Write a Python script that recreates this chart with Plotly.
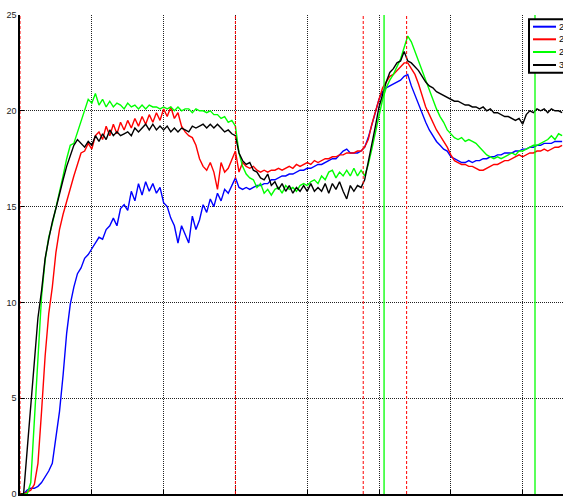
import plotly.graph_objects as go

x = list(range(0, 3800, 25))

black = [0.0, 0.0, 2.3, 4.6, 7.3, 9.2, 10.6, 12.3, 13.3, 14.2,
         14.9, 15.7, 16.4, 17.1, 17.7, 18.2, 18.5, 18.3, 18.1, 18.4,
         18.2, 18.7, 18.4, 18.8, 18.5, 19.0, 18.7, 18.9, 18.7, 18.8,
         18.9, 18.7, 19.1, 18.9, 19.1, 19.3, 19.0, 19.3, 19.0, 19.2,
         19.0, 19.2, 18.9, 19.1, 18.9, 19.1, 19.0, 18.9, 19.2, 19.1,
         19.2, 19.3, 19.1, 19.3, 19.1, 19.3, 19.1, 18.9, 19.0, 18.8,
         18.7, 17.8, 17.4, 17.2, 17.3, 16.9, 16.8, 16.5, 16.4, 16.7,
         16.1, 16.3, 15.9, 16.2, 15.8, 16.1, 15.7, 16.0, 15.8, 16.1,
         15.8, 16.2, 15.8, 16.0, 15.8, 16.2, 15.7, 16.2, 15.9, 16.3,
         15.8, 15.4, 16.1, 15.8, 16.1, 16.0, 16.4, 17.3, 18.2, 19.2,
         20.2, 20.9, 21.5, 22.0, 22.2, 22.5, 22.6, 23.1, 22.6, 22.5,
         22.3, 22.1, 21.8, 21.5, 21.3, 21.2, 21.0, 20.9, 20.8, 20.7,
         20.6, 20.5, 20.5, 20.4, 20.3, 20.3, 20.2, 20.2, 20.1, 20.2,
         20.0, 20.1, 19.9, 19.9, 19.8, 19.7, 19.7, 19.6, 19.5, 19.6,
         19.3, 19.8, 20.0, 19.9, 20.1, 20.0, 20.1, 19.9, 20.1, 20.0,
         20.0, 19.9]

green = [0.0, 0.0, 0.0, 0.6, 3.8, 7.2, 10.3, 12.2, 13.4, 14.1,
         14.9, 15.8, 16.6, 17.5, 18.2, 18.3, 18.9, 19.5, 20.1, 20.6,
         20.4, 20.9, 20.3, 20.6, 20.2, 20.5, 20.2, 20.4, 20.3, 20.1,
         20.4, 20.2, 20.3, 20.1, 20.3, 20.1, 20.3, 20.2, 20.2, 20.1,
         20.2, 20.1, 20.2, 20.0, 20.2, 20.0, 20.1, 20.1, 19.9, 20.1,
         20.0, 20.0, 19.9, 20.0, 19.8, 19.8, 19.6, 19.7, 19.4, 19.5,
         19.2, 17.8, 17.1, 16.7, 16.5, 16.4, 16.0, 16.2, 15.7, 15.9,
         15.6, 15.9, 16.0, 15.7, 16.1, 15.9, 16.0, 15.8, 16.1, 16.2,
         16.1, 16.3, 16.4, 16.2, 16.6, 16.4, 16.8, 16.9, 16.5, 16.8,
         16.6, 16.9, 16.6, 17.0, 16.6, 16.9, 16.6, 17.2, 18.0, 18.9,
         19.8, 20.6, 21.2, 21.6, 21.9, 22.3, 22.7, 23.3, 23.9, 23.6,
         23.1, 22.5, 22.0, 21.5, 21.0, 20.5, 20.1, 19.7, 19.4, 19.0,
         18.8, 18.6, 18.5, 18.6, 18.4, 18.5, 18.4, 18.3, 18.1, 17.9,
         17.7, 17.6, 17.5, 17.6, 17.5, 17.6, 17.7, 17.8, 17.7, 17.9,
         17.9, 18.0, 18.1, 18.2, 18.2, 18.3, 18.4, 18.5, 18.7, 18.5,
         18.8, 18.7]

red = [0.0, 0.0, 0.1, 0.2, 0.5, 1.6, 4.3, 7.2, 9.4, 10.8,
       12.6, 13.8, 14.6, 15.3, 15.9, 16.6, 17.2, 17.8, 17.9, 18.3,
       18.0, 18.7, 18.9, 18.5, 19.2, 18.7, 19.3, 18.8, 19.4, 19.0,
       19.5, 19.1, 19.6, 19.2, 19.7, 19.3, 19.8, 19.4, 19.9, 19.5,
       20.1, 19.7, 20.2, 19.6, 19.9, 19.2, 18.9, 18.7, 18.6, 18.2,
       17.5, 17.1, 16.9, 17.3, 16.8, 15.9, 17.3, 16.8, 17.0, 17.5,
       17.9, 16.8, 17.3, 17.1, 17.0, 17.1, 16.9, 16.8, 16.9, 16.8,
       16.9, 16.9, 17.0, 16.9, 17.0, 17.1, 17.0, 17.2, 17.1, 17.2,
       17.3, 17.2, 17.4, 17.3, 17.4, 17.5, 17.5, 17.6, 17.6, 17.7,
       17.7, 17.8, 17.8, 17.8, 17.9, 17.9, 18.1, 18.5, 19.3, 20.0,
       20.6, 21.2, 21.5, 21.8, 21.9, 22.1, 22.3, 22.5, 22.5, 22.2,
       21.9, 21.4, 20.8, 20.2, 19.8, 19.4, 19.0, 18.7, 18.4, 18.1,
       17.7, 17.4, 17.3, 17.2, 17.2, 17.1, 17.1, 17.0, 16.9, 16.9,
       17.0, 17.1, 17.2, 17.2, 17.3, 17.4, 17.4, 17.5, 17.6, 17.7,
       17.6, 17.7, 17.8, 17.8, 17.9, 17.9, 18.0, 17.9, 18.0, 18.1,
       18.1, 18.2]

blue = [0.0, 0.0, 0.2, 0.3, 0.3, 0.4, 0.6, 0.9, 1.2, 1.6,
        3.0, 4.3, 6.2, 8.4, 9.9, 10.8, 11.5, 11.8, 12.3, 12.5,
        12.8, 13.1, 13.4, 13.3, 13.8, 14.0, 14.4, 14.0, 14.9, 15.1,
        14.8, 15.8, 15.3, 16.2, 15.6, 16.3, 15.8, 16.2, 15.7, 16.0,
        15.2, 15.0, 14.4, 14.0, 13.1, 14.0, 13.5, 13.1, 14.5, 13.8,
        14.3, 15.1, 14.7, 15.4, 15.0, 15.7, 15.3, 15.9, 15.7, 16.1,
        16.5, 16.0, 15.9, 16.0, 15.9, 16.0, 16.1, 16.1, 16.2, 16.2,
        16.4, 16.4, 16.5, 16.6, 16.6, 16.7, 16.7, 16.8, 16.9, 16.9,
        17.0, 17.0, 17.1, 17.2, 17.2, 17.3, 17.4, 17.5, 17.5, 17.7,
        17.9, 18.0, 17.8, 17.8, 17.8, 17.9, 18.1, 18.6, 19.3, 20.0,
        20.6, 21.0, 21.2, 21.3, 21.4, 21.5, 21.6, 21.8, 21.9, 21.3,
        20.8, 20.3, 19.8, 19.4, 19.0, 18.7, 18.4, 18.2, 18.0, 17.9,
        17.6, 17.5, 17.4, 17.3, 17.3, 17.4, 17.3, 17.4, 17.4, 17.5,
        17.5, 17.6, 17.6, 17.7, 17.7, 17.8, 17.8, 17.8, 17.9, 17.9,
        18.0, 18.0, 18.1, 18.1, 18.2, 18.2, 18.3, 18.3, 18.3, 18.4,
        18.4, 18.4]

series_names = ["2", "2", "2", "3"]
series_colors = ["#0000ff", "#ff0000", "#00ff00", "#000000"]
series_values = [blue, red, green, black]

red_markers = [0, 1500, 2390, 2692]
green_markers = [2535, 3586]

x_ticks = [0, 500, 1000, 1500, 2000, 2500, 3000, 3500]
y_ticks = [0, 5, 10, 15, 20, 25]

fig = go.Figure()
for name, col, vals in zip(series_names, series_colors, series_values):
    fig.add_trace(go.Scatter(x=x, y=vals, mode="lines", name=name,
                             line=dict(color=col, width=1.4), showlegend=False))

shapes = []
for xv in red_markers:
    shapes.append(dict(type="line", xref="x", yref="paper", x0=xv, x1=xv, y0=0, y1=1,
                       line=dict(color="#ff0000", width=1, dash="3px,2px"), layer="above"))
for xv in green_markers:
    shapes.append(dict(type="line", xref="x", yref="paper", x0=xv, x1=xv, y0=0, y1=1,
                       line=dict(color="#00ff00", width=1.3), layer="above"))

# legend box (manual, clipped by the window like the reference)
L, W, T, H = 20, 543, 15, 479
def px(p):
    return (p - L) / W
def py(p):
    return (T + H - p) / H

shapes.append(dict(type="rect", xref="paper", yref="paper", x0=px(529), x1=px(600),
                   y0=py(72.7), y1=py(19.3), fillcolor="white",
                   line=dict(color="black", width=2), layer="above"))
annots = []
leg_y = [26.7, 39.3, 52, 65]
for name, col, yy in zip(series_names, series_colors, leg_y):
    shapes.append(dict(type="line", xref="paper", yref="paper", x0=px(533), x1=px(556),
                       y0=py(yy), y1=py(yy), line=dict(color=col, width=2), layer="above"))
    annots.append(dict(xref="paper", yref="paper", x=px(557), y=py(yy), text=name,
                       showarrow=False, xanchor="left", yanchor="middle",
                       font=dict(size=9, color="black", family="Liberation Sans")))

axis_common = dict(ticks="inside", ticklen=4, tickcolor="black", showgrid=True,
                   gridcolor="#222", griddash="1px,1px", gridwidth=1,
                   showline=True, linecolor="black", linewidth=1.5,
                   zeroline=False, automargin=False, tickfont=dict(size=9))

fig.update_layout(
    width=563, height=501,
    margin=dict(l=L, r=0, t=T, b=7),
    paper_bgcolor="white", plot_bgcolor="white",
    shapes=shapes, annotations=annots,
    font=dict(family="Liberation Sans", size=9, color="#222"),
    xaxis=dict(range=[0, 3781], tickvals=x_ticks, **axis_common),
    yaxis=dict(range=[0, 25], tickvals=y_ticks, **axis_common),
)

fig.write_html("out.html")
